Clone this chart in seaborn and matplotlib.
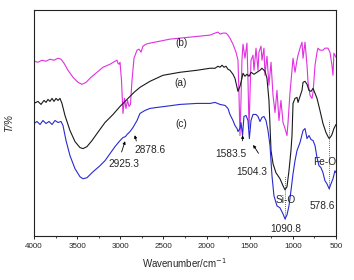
import matplotlib
matplotlib.use("Agg")
import matplotlib.pyplot as plt
import seaborn as sns

# FTIR spectra: wavenumber (cm-1) and transmittance (arb. units)
wn_a = [4000, 3954, 3919, 3884, 3861, 3838, 3815, 3791, 3768, 3745, 3722, 3699, 3676, 3641,
        3583, 3525, 3467, 3432, 3386, 3328, 3270, 3177, 3084, 3003, 2922, 2841, 2772, 2656,
        2505, 2308, 2111, 1960, 1902, 1868, 1844, 1821, 1798, 1775, 1752, 1729, 1694, 1671,
        1647, 1636, 1613, 1590, 1578, 1555, 1532, 1508, 1485, 1450, 1416, 1381, 1358, 1323,
        1300, 1277, 1265, 1253, 1230, 1196, 1149, 1114, 1091, 1068, 1045, 1022, 1010, 998,
        975, 952, 940, 917, 894, 882, 859, 836, 813, 789, 766, 743, 720, 686, 651, 616, 593,
        579, 560, 547, 524, 500]
t_a = [132, 134, 131, 135, 133, 136, 134, 137, 134, 137, 135, 137, 132, 120,
       105, 94, 88, 87, 89, 95, 102, 113, 121, 129, 136, 143, 148, 154,
       160, 163, 165, 167, 167, 169, 168, 170, 168, 169, 166, 165, 161, 157,
       148, 144, 149, 157, 162, 159, 161, 159, 163, 161, 163, 165, 167, 164,
       157, 135, 110, 85, 72, 63, 57, 50, 46, 49, 65, 85, 100, 132,
       137, 138, 133, 139, 145, 153, 154, 151, 145, 144, 147, 142, 137, 125, 112, 103, 99,
       97, 99, 101, 107, 111]

wn_b = [4000, 3954, 3907, 3861, 3815, 3768, 3722, 3687, 3652, 3606, 3548, 3490, 3444, 3397,
        3339, 3270, 3200, 3119, 3061, 3038, 3027, 3015, 3003, 2986, 2969, 2951, 2934, 2916,
        2899, 2882, 2864, 2841, 2806, 2783, 2760, 2737, 2702, 2656, 2540, 2424, 2308, 2192,
        2076, 1960, 1902, 1868, 1844, 1810, 1775, 1752, 1729, 1694, 1659, 1636, 1624, 1613,
        1601, 1590, 1578, 1555, 1532, 1520, 1508, 1497, 1485, 1462, 1450, 1427, 1404, 1393,
        1369, 1358, 1335, 1323, 1300, 1277, 1253, 1230, 1207, 1184, 1161, 1138, 1114, 1091,
        1068, 1056, 1033, 1010, 998, 975, 952, 940, 917, 894, 882, 859, 836, 824, 801, 778,
        766, 743, 720, 709, 686, 651, 628, 593, 570, 547, 535, 524, 500]
t_b = [174, 173, 175, 174, 176, 175, 177, 176, 172, 165, 158, 153, 151, 153,
       158, 163, 168, 171, 174, 175, 172, 171, 173, 155, 122, 137, 127, 135,
       129, 131, 155, 177, 185, 186, 183, 189, 191, 192, 194, 196, 197, 198,
       199, 200, 202, 203, 201, 202, 202, 200, 197, 191, 183, 175, 140, 100,
       135, 175, 191, 177, 192, 155, 107, 140, 175, 180, 165, 187, 165, 183,
       189, 175, 187, 160, 179, 150, 173, 140, 123, 145, 115, 135, 113, 107,
       100, 113, 143, 165, 177, 163, 175, 180, 187, 193, 177, 193, 170, 153, 140, 137,
       143, 170, 183, 187, 185, 185, 187, 187, 183, 170, 160, 182, 178]

wn_c = [4000, 3965, 3930, 3896, 3861, 3826, 3791, 3757, 3722, 3687, 3664, 3629, 3583, 3525,
        3467, 3432, 3386, 3328, 3235, 3177, 3119, 3061, 3003, 2969, 2940, 2922, 2887, 2853,
        2806, 2772, 2714, 2656, 2575, 2482, 2308, 2111, 1960, 1902, 1844, 1786, 1752, 1729,
        1694, 1671, 1647, 1636, 1613, 1601, 1583, 1567, 1543, 1520, 1504, 1485, 1462, 1427,
        1404, 1381, 1358, 1335, 1311, 1288, 1265, 1242, 1219, 1184, 1149, 1114, 1091, 1068,
        1045, 1022, 998, 975, 952, 917, 882, 859, 836, 813, 789, 766, 743, 720, 697, 674,
        651, 628, 605, 579, 558, 535, 512, 500]
t_c = [112, 114, 111, 115, 112, 114, 111, 115, 113, 114, 110, 95, 80, 67,
       59, 57, 58, 63, 70, 75, 82, 89, 95, 98, 99, 101, 104, 108,
       115, 122, 125, 127, 128, 129, 131, 132, 132, 133, 131, 130, 127, 121,
       115, 110, 107, 104, 107, 113, 100, 119, 120, 115, 97, 115, 121, 121,
       119, 114, 118, 119, 115, 105, 90, 60, 40, 30, 28, 22, 17, 21,
       30, 45, 62, 75, 85, 93, 105, 107, 97, 100, 96, 95, 90, 78, 70, 68,
       63, 55, 52, 47, 52, 57, 65, 63]

xticks = [4000, 3500, 3000, 2500, 2000, 1500, 1000, 500]

sns.set_style("ticks")
plt.rcParams["font.family"] = ["Liberation Sans", "DejaVu Sans"]

fig = plt.figure(figsize=(3.54, 2.80), dpi=100)
ax = fig.add_axes([34 / 354, 44 / 280, 302 / 354, 226 / 280])

sns.lineplot(x=wn_b, y=t_b, ax=ax, color="#e030e0", lw=0.8, sort=False, estimator=None)
sns.lineplot(x=wn_a, y=t_a, ax=ax, color="#1a1a1a", lw=0.8, sort=False, estimator=None)
sns.lineplot(x=wn_c, y=t_c, ax=ax, color="#2a2ad0", lw=0.8, sort=False, estimator=None)

ax.set_xlim(4000, 500)
ax.set_ylim(0, 225)
ax.set_xticks(xticks)
ax.set_xticks(range(3750, 500, -500), minor=True)
ax.set_yticks([])
ax.tick_params(axis="x", which="major", direction="out", length=2.5, width=0.7, labelsize=5.8, pad=2.5)
ax.tick_params(axis="x", which="minor", direction="out", length=1.5, width=0.6)
for s in ax.spines.values():
    s.set_visible(True)
    s.set_linewidth(0.8)
    s.set_color("#222222")

ax.set_xlabel("Wavenumber/cm$^{-1}$", fontsize=7, labelpad=4.5)
ax.set_ylabel("T/%", fontsize=7.3, style="italic")
ax.yaxis.set_label_coords(-0.065, 0.5)

# curve labels
fs = 7.3
ax.text(2296, 192, "(b)", fontsize=fs, ha="center", va="center")
ax.text(2296, 152, "(a)", fontsize=fs, ha="center", va="center")
ax.text(2296, 112, "(c)", fontsize=fs, ha="center", va="center")

# peak annotations
arw = dict(arrowstyle="-|>", color="black", lw=0.6, mutation_scale=4)
ax.annotate("", xy=(2934, 97), xytext=(2995, 81), arrowprops=arw)
ax.text(2957, 72, "2925.3", fontsize=fs, ha="center", va="center")
ax.annotate("", xy=(2841, 103), xytext=(2806, 92), arrowprops=arw)
ax.text(2655, 86, "2878.6", fontsize=fs, ha="center", va="center")
ax.annotate("", xy=(1582, 103), xytext=(1582, 92), arrowprops=arw)
ax.text(1717, 82, "1583.5", fontsize=fs, ha="center", va="center")
ax.annotate("", xy=(1477, 93), xytext=(1381, 80), arrowprops=arw)
ax.text(1474, 64, "1504.3", fontsize=fs, ha="center", va="center")

ax.plot([1090.8, 1090.8], [17, 60], ls=(0, (1, 1.5)), color="#333333", lw=0.6)
ax.plot([578.6, 578.6], [47, 115], ls=(0, (1, 1.5)), color="#333333", lw=0.6)
ax.text(1080, 36, "Si-O", fontsize=fs, ha="center", va="center")
ax.text(1080, 7, "1090.8", fontsize=fs, ha="center", va="center")
ax.text(628, 74, "Fe-O", fontsize=fs, ha="center", va="center")
ax.text(662, 30, "578.6", fontsize=fs, ha="center", va="center")

fig.savefig("out.png", dpi=100)
